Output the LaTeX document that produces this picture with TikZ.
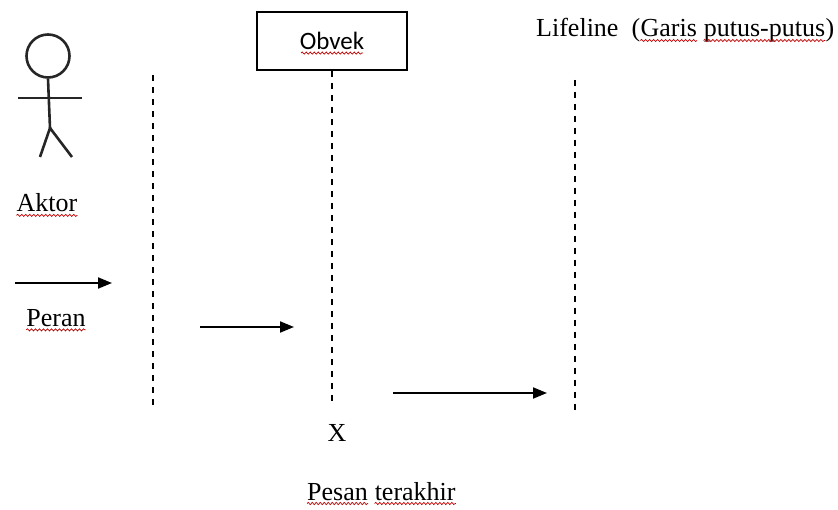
\documentclass[tikz,border=0pt]{standalone}
\usepackage{fontspec}
\setmainfont{Liberation Serif}
\newfontfamily\calfont{Carlito}
\usetikzlibrary{arrows.meta,decorations.pathmorphing}
\begin{document}
\begin{tikzpicture}[x=1pt,y=-1pt,
  lbl/.style={font=\fontsize{26}{30}\selectfont, inner sep=0pt},
  wlbl/.style={lbl, anchor=base west},
  lifeln/.style={line width=1.4pt, dash pattern=on 6pt off 6pt},
  msg/.style={line width=1.9pt, -{Triangle[length=14pt,width=11pt]}},
  fig/.style={line width=2.6pt, draw=black!85},
  squig/.style={red!75!black, line width=0.7pt, decorate, decoration={snake, amplitude=1.1pt, segment length=4pt}}]
\useasboundingbox (0,0) rectangle (838,510);
% actor
\node[fig, draw, circle, inner sep=0pt, minimum size=43pt] (head) at (48,56) {};
\coordinate (hip) at (50,128);
\coordinate (armL) at (18,98);
\coordinate (armR) at (82,98);
\coordinate (legL) at (40,157);
\coordinate (legR) at (72,157);
\draw[fig] (head.south) -- (hip);
\draw[fig] (armL) -- (armR);
\draw[fig] (legL) -- (hip) -- (legR);
\node[lbl] (aktor) at (47,203) {Aktor};
% object box
\node[draw, line width=1.6pt, minimum width=150pt, minimum height=58pt, inner sep=0pt,
      font=\calfont\fontsize{25}{29}\selectfont] (obj) at (332,41) {Obvek};
% lifelines
\coordinate (l1t) at (153,75);  \coordinate (l1b) at (153,405);
\coordinate (l2b) at (332,405);
\coordinate (l3t) at (575,80);  \coordinate (l3b) at (575,412);
\draw[lifeln] (l1t) -- (l1b);
\draw[lifeln] (obj.south) -- (l2b);
\draw[lifeln] (l3t) -- (l3b);
% messages
\coordinate (m1a) at (15,283);  \coordinate (m1b) at (112,283);
\coordinate (m2a) at (200,327); \coordinate (m2b) at (294,327);
\coordinate (m3a) at (393,393); \coordinate (m3b) at (547,393);
\draw[msg] (m1a) -- (m1b);
\draw[msg] (m2a) -- (m2b);
\draw[msg] (m3a) -- (m3b);
% labels
\node[lbl] (peran) at (56,318) {Peran};
\node[lbl] (xmark) at (337,433) {X};
\node[wlbl] (pesanA) at (307,500) {Pesan};
\node[wlbl] (pesanB) at ([xshift=6.5pt]pesanA.base east) {terakhir};
\node[wlbl] (lifeA) at (536,37) {Lifeline\ \ (};
\node[wlbl] (lifeB) at (lifeA.base east) {Garis};
\node[wlbl] (lifeC) at ([xshift=6.5pt]lifeB.base east) {putus-putus};
\node[wlbl] (lifeD) at (lifeC.base east) {)};
% spelling squiggles
\foreach \n in {aktor,peran,pesanA,pesanB,lifeB,lifeC}
  \draw[squig] ([yshift=-3.5pt]\n.base west) -- ([yshift=-3.5pt]\n.base east);
\draw[squig] ([xshift=-31pt,yshift=-3.5pt]obj.base) -- ([xshift=31pt,yshift=-3.5pt]obj.base);
\end{tikzpicture}
\end{document}
